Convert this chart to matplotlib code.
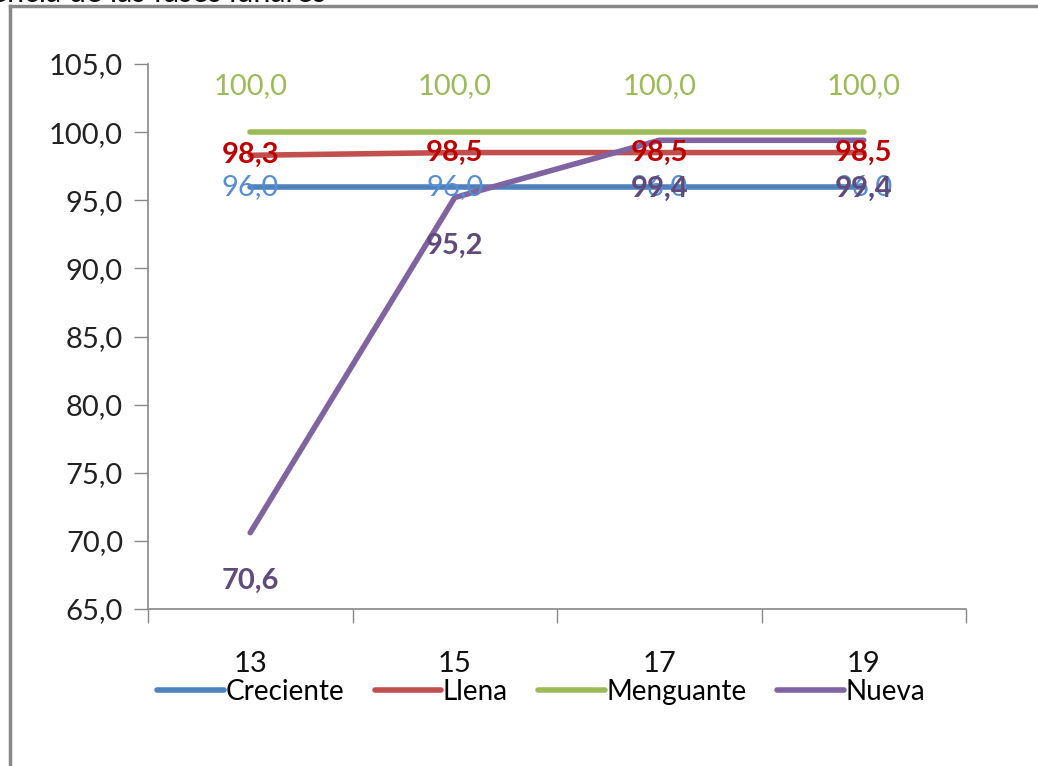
import matplotlib
matplotlib.use("Agg")
import matplotlib.pyplot as plt
from matplotlib.lines import Line2D
from matplotlib import font_manager

# Data
categories = ["13", "15", "17", "19"]
creciente = [96.0, 96.0, 96.0, 96.0]
llena = [98.3, 98.5, 98.5, 98.5]
menguante = [100.0, 100.0, 100.0, 100.0]
nueva = [70.6, 95.2, 99.4, 99.4]
series_names = ["Creciente", "Llena", "Menguante", "Nueva"]
y_ticks = [65.0, 70.0, 75.0, 80.0, 85.0, 90.0, 95.0, 100.0, 105.0]

line_colors = ["#4F81BD", "#C0504D", "#9BBB59", "#8064A2"]
label_colors = ["#558ED5", "#C00000", "#9BBB59", "#604A7B"]

avail = {f.name for f in font_manager.fontManager.ttflist}
main_font = "Lato" if "Lato" in avail else "DejaVu Sans"
plt.rcParams["font.family"] = [main_font, "DejaVu Sans"]

fig = plt.figure(figsize=(10.38, 7.66), dpi=100)
ax = fig.add_axes([148 / 1038, 1 - 609 / 766, (966 - 148) / 1038, (609 - 64) / 766])

x = list(range(len(categories)))
all_series = [creciente, llena, menguante, nueva]
handles = []
for vals, name, col in zip(all_series, series_names, line_colors):
    h, = ax.plot(x, vals, color=col, lw=4, solid_capstyle="round",
                 solid_joinstyle="round", label=name, zorder=3)
    handles.append(h)

def fmt(v):
    return f"{v:.1f}".replace(".", ",")

# data labels: Creciente / Llena centred, Menguante above, Nueva below
offsets = {"Creciente": (0, 0), "Llena": (0, 0), "Menguante": (0, 33), "Nueva": (0, -35)}
for vals, name, col in zip(all_series, series_names, label_colors):
    dx, dy = offsets[name]
    for xi, v in zip(x, vals):
        ax.annotate(fmt(v), (xi, v), xytext=(dx, dy), textcoords="offset points",
                    ha="center", va="center", color=col, fontsize=21,
                    fontweight="bold" if name in ("Llena", "Nueva") else "normal",
                    zorder=4)

ax.set_xlim(-0.5, 3.5)
ax.set_ylim(65, 105)
ax.set_yticks(y_ticks)
ax.set_yticklabels([fmt(t) for t in y_ticks], fontsize=21, color="#222222")
ax.set_xticks(x)
ax.set_xticklabels(categories, fontsize=21, color="#111111")
ax.set_xticks([-0.5, 0.5, 1.5, 2.5, 3.5], minor=True)
ax.tick_params(axis="x", which="major", length=0, pad=30)
ax.tick_params(axis="x", which="minor", length=10, color="#888888", width=1)
ax.tick_params(axis="y", length=10, color="#888888", width=1, pad=8)
for s in ["top", "right"]:
    ax.spines[s].set_visible(False)
for s in ["left", "bottom"]:
    ax.spines[s].set_color("#888888")
    ax.spines[s].set_linewidth(1.2)

leg = fig.legend(handles=handles, loc="center", bbox_to_anchor=(541 / 1038, 1 - 692 / 766),
                 ncol=4, frameon=False, handlelength=2.4, handletextpad=0.05,
                 columnspacing=1.1, prop={"size": 20})

# outer frame
fig.add_artist(Line2D([10 / 1038, 1.0], [1 - 6 / 766, 1 - 6 / 766], transform=fig.transFigure,
                      color="#888888", lw=2.5))
fig.add_artist(Line2D([10 / 1038, 10 / 1038], [0, 1 - 6 / 766], transform=fig.transFigure,
                      color="#888888", lw=2.5))

# title clipped at the top edge
fig.text(-9 / 1038, 1 - 2 / 766, "encia de las fases lunares", ha="left", va="baseline",
         fontsize=22, color="#111111")

fig.savefig("out.png", dpi=100)
